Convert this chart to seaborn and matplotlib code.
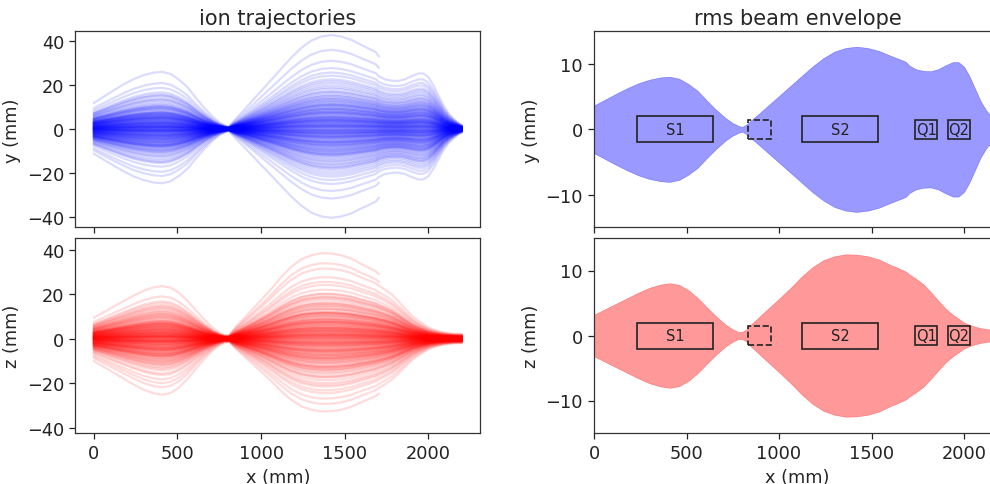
import numpy as np
import pandas as pd
import matplotlib
matplotlib.use("Agg")
import matplotlib.pyplot as plt
from matplotlib.patches import Rectangle
import seaborn as sns

# Beamline positions (mm) at which the beam is sampled
x_pos = [0, 60, 120, 180, 240, 300, 360, 410, 460, 510, 560, 610, 660, 710, 750,
         780, 800, 820, 850, 900, 950, 1000, 1060, 1120, 1180, 1240, 1300, 1360,
         1420, 1480, 1540, 1600, 1650, 1685, 1705, 1740, 1780, 1820, 1860, 1900,
         1940, 1970, 2000, 2030, 2060, 2090, 2120, 2150, 2180, 2200]

# rms beam half-size (mm) in y and z
rms_y = [3.65, 4.55, 5.45, 6.3, 7.05, 7.6, 7.95, 8.05, 7.75, 6.95, 5.9, 4.4, 3.0,
         1.75, 0.95, 0.55, 0.36, 0.65, 1.4, 2.6, 3.85, 5.1, 6.6, 8.1, 9.6, 10.9,
         11.9, 12.45, 12.65, 12.45, 12.0, 11.3, 10.75, 10.35, 9.75, 9.2, 8.95, 8.9,
         9.2, 9.8, 10.3, 10.3, 9.6, 8.1, 6.2, 4.3, 2.9, 1.9, 1.1, 0.7]
rms_z = [3.2, 4.05, 4.9, 5.75, 6.6, 7.35, 7.85, 8.05, 7.8, 7.0, 5.8, 4.35, 2.95,
         1.7, 0.95, 0.55, 0.55, 0.85, 1.75, 3.05, 4.35, 5.65, 7.25, 9.0, 10.5, 11.6,
         12.2, 12.5, 12.45, 12.2, 11.7, 10.9, 10.3, 9.85, 9.4, 8.75, 7.9, 6.7, 5.4,
         4.15, 3.2, 2.6, 2.0, 1.65, 1.35, 1.15, 1.0, 0.9, 0.85, 0.85]

# Normalised ion amplitudes (units of rms size) before and after the crossover
amp_y_in = [0.12, -0.85, 1.43, -0.27, 0.66, -1.92, 0.04, 0.91, -0.53, 2.31,
            -0.08, 0.37, -1.21, 0.79, -0.44, 1.08, -2.64, 0.21, -0.69, 0.55,
            1.72, -0.15, 0.48, -1.37, 0.02, -0.96, 0.83, -0.31, 1.26, -0.61,
            0.29, -1.58, 0.71, -0.05, 3.21, -0.77, 0.14, -1.04, 0.58, -0.22,
            -0.39, 1.15, -0.12, 0.94, -1.69, 0.33, -0.88, 0.07, 1.89, -0.47,
            0.62, -0.19, -1.13, 0.41, -0.73, 1.31, -0.02, 0.87, -2.12, 0.18,
            -0.57, 0.25, 1.02, -0.34, 0.76, -1.46, 0.11, -0.81, 0.51, 1.61,
            -0.25, 0.69, -0.99, 0.09, 1.21, -0.63, 0.35, -1.28, 2.58, -0.10,
            0.45, -0.41, 0.82, -1.79, 0.16, -0.06, 1.37, -0.91, 0.27, -0.51,
            1.96, -0.36, 0.58, -1.09, 0.03, 0.73, -0.66, -3.05, 0.39, 1.11,
            -0.14, 0.88, -0.49, 0.23, -1.33, 0.64, 1.52, -0.21, -0.83, 0.13,
            0.54, -1.01, 0.31, -0.59, 1.84, -0.09, 0.97, -1.52, 0.06, -0.38,
            -0.71, 0.19, -2.41, 1.18, -0.29, 0.43, -0.94, 0.67, -0.04, 2.07,
            0.35, -1.17, 0.78, -0.17, -0.55, 1.27, 0.01, -1.86, 0.61, -0.32,
            -0.93, 0.47, 0.15, -0.75, 1.66, -0.43, 0.93, -1.24, 0.28, -0.11]
amp_y_out = [-0.44, 1.07, -0.16, 0.62, -1.71, 0.28, 0.95, -0.58, 2.18, -0.03,
             0.81, -1.26, 0.14, -0.37, 1.49, -0.86, 0.42, -0.09, -2.49, 0.56,
             -0.22, 0.73, -1.02, 0.05, 0.34, 1.91, -0.67, 0.19, -1.41, 0.87,
             0.11, -0.52, 2.83, -0.31, 0.68, -0.98, 0.24, 1.23, -0.13, -0.79,
             1.36, -0.07, -0.61, 0.49, -1.16, 0.76, -0.28, 0.02, 1.01, -1.83,
             -0.35, 0.57, 0.13, -0.89, 1.64, -0.46, 0.32, -2.22, 0.71, -0.18,
             0.92, -0.72, 0.38, -0.01, -1.34, 0.17, 1.12, -0.54, 0.44, -3.18,
             -0.11, 1.78, -0.42, 0.63, -0.95, 0.08, -0.26, 1.29, -1.07, 0.36,
             0.53, -0.64, -0.17, 1.03, -1.55, 0.26, 0.84, -0.33, 2.44, -0.48,
             -0.81, 0.22, 0.67, -1.19, 0.09, -0.04, 1.44, -0.69, 0.31, 1.17,
             -1.97, 0.46, -0.24, 0.79, -0.56, 1.33, 0.12, -0.91, 0.59, -0.14,
             0.27, -1.38, 0.98, -0.06, 0.40, -0.76, 2.02, -0.29, 0.72, -1.11,
             0.16, -0.47, 1.56, -0.83, 0.04, 0.61, -1.63, 0.35, -0.20, 0.89,
             -0.60, 1.09, -0.39, 0.21, -1.28, 0.52, -0.03, 1.71, -0.92, 0.30,
             0.07, -0.74, 0.43, -1.47, 0.86, -0.12, 1.19, -0.50, 3.36, -0.27]
amp_z_in = [-0.31, 0.74, -1.18, 0.06, 1.53, -0.62, 0.29, -2.27, 0.88, -0.09,
            0.41, -0.95, 0.17, 1.24, -0.46, 0.03, -1.61, 0.66, -0.21, 2.09,
            -0.73, 0.12, 0.93, -0.38, -1.06, 0.51, 1.81, -0.14, 0.36, -0.84,
            0.22, -0.57, 1.38, -1.94, 0.08, 0.79, -0.27, -0.02, 1.12, -0.66,
            -2.71, 0.47, -0.19, 0.97, -0.89, 0.33, 1.47, -0.44, 0.14, -1.31,
            0.60, -0.07, -1.42, 0.25, 0.84, -0.52, 2.36, -0.24, 0.55, -0.98,
            1.06, -0.35, 0.19, -1.67, 0.71, -0.11, -0.78, 0.39, 1.68, -0.49,
            -0.16, 0.90, -1.09, 0.31, -0.59, 1.99, 0.01, -0.82, 0.48, -1.23,
            0.57, -0.28, 1.29, -0.04, -1.51, 0.69, 0.15, -0.70, 2.94, -0.41,
            -0.87, 0.35, -0.13, 1.16, -2.03, 0.44, 0.81, -0.55, 0.09, 1.41,
            -0.33, 0.63, -1.36, 0.20, -0.03, 1.00, -0.64, 0.28, -1.77, 0.76,
            0.13, -0.47, 1.73, -0.92, 0.52, -0.18, -1.14, 0.86, 0.05, -2.48,
            0.99, -0.26, 0.37, -0.80, 1.21, -0.12, 0.64, -1.46, 0.23, -0.53,
            -1.00, 0.54, 0.07, 1.58, -0.36, 0.30, -0.69, 1.87, -0.08, -3.12,
            0.46, -1.27, 0.82, -0.17, 0.18, -0.60, 1.33, -0.97, 0.11, 0.70]
amp_z_out = [0.58, -1.12, 0.26, -0.45, 1.62, 0.04, -0.83, 0.97, -2.15, 0.32,
             -0.19, 0.71, -0.60, 1.27, 0.10, -1.49, 0.43, -0.08, 2.52, -0.73,
             0.89, -0.31, -1.85, 0.16, 0.65, -0.02, 1.04, -0.54, 0.38, -1.06,
             -0.24, 1.45, -0.68, 0.29, -0.13, 0.81, -2.34, 0.55, -0.40, 1.14,
             0.07, -0.92, 0.49, 1.93, -0.35, 0.20, -1.21, 0.74, -0.06, -0.57,
             1.31, -0.16, 0.62, -1.02, 0.34, -0.48, 2.21, 0.12, -0.77, 0.93,
             -1.59, 0.39, -0.09, 0.85, -0.63, 1.18, -0.25, 0.02, -1.33, 0.47,
             3.07, -0.42, 0.27, -0.86, 1.52, -0.14, 0.60, -1.15, 0.19, -0.70,
             -0.01, 1.07, -0.53, 0.36, -1.72, 0.79, 0.14, -0.29, 1.39, -0.97,
             0.50, -0.21, -2.61, 0.68, -0.38, 1.25, 0.08, -0.80, 0.31, 1.76,
             -0.45, 0.24, -1.10, 0.57, 0.01, -0.65, 1.60, -0.18, 0.92, -1.40,
             0.15, -0.75, 0.44, 2.04, -0.28, 0.66, -0.99, 0.22, -1.95, 0.83,
             -0.11, 1.21, -0.50, 0.09, -1.25, 0.37, 0.96, -0.36, 0.53, -0.03,
             -0.88, 0.18, 1.49, -0.59, 0.72, -1.66, 0.28, -0.15, 1.09, -0.43,
             0.61, -1.37, 0.05, 0.91, -0.23, 2.71, -0.69, 0.40, -1.03, 0.13]

# Lattice elements: name, start (mm), end (mm), box half-height (mm), dashed
elem_names = ["S1", "", "S2", "Q1", "Q2"]
elem_start = [235, 830, 1125, 1735, 1912]
elem_end = [645, 955, 1537, 1855, 2033]
elem_half = [2.0, 1.5, 2.0, 1.5, 1.5]
elem_dashed = [False, True, False, False, False]

crossover_x = 800     # beam waist between the two solenoids
aperture_x = 1705     # aperture in front of the quadrupoles
aperture_r = 24.0     # its radius (mm)


def trajectories(rms, amp_in, amp_out):
    xs = np.asarray(x_pos, float)
    env = np.asarray(rms, float)
    rows = []
    for i, (a, b) in enumerate(zip(amp_in, amp_out)):
        amp = np.where(xs <= crossover_x, a, b)
        pos = amp * env
        keep = np.ones_like(xs, bool)
        at_ap = pos[xs == aperture_x][0]
        if abs(at_ap) > aperture_r:
            keep = xs <= aperture_x
        rows.append(pd.DataFrame({"x": xs[keep], "pos": pos[keep], "ion": i}))
    return pd.concat(rows, ignore_index=True)


traj_y = trajectories(rms_y, amp_y_in, amp_y_out)
traj_z = trajectories(rms_z, amp_z_in, amp_z_out)

sns.set_style("ticks")
plt.rcParams["font.family"] = ["DejaVu Sans"]
plt.rcParams["axes.edgecolor"] = "#333333"
plt.rcParams["xtick.color"] = "#222222"
plt.rcParams["ytick.color"] = "#222222"

fig = plt.figure(figsize=(9.9, 4.85), dpi=100)
W, H = 990.0, 485.0


def add_axes(l, t, r, b):
    return fig.add_axes([l / W, 1 - b / H, (r - l) / W, (b - t) / H])


ax_ty = add_axes(75.3, 32.3, 480.3, 228.3)
ax_tz = add_axes(75.3, 239.0, 480.3, 434.0)
ax_ey = add_axes(594.0, 32.3, 1001.0, 228.3)
ax_ez = add_axes(594.0, 239.0, 1001.0, 434.0)

tick_fs = 12.8
for ax, df, col in [(ax_ty, traj_y, "blue"), (ax_tz, traj_z, "red")]:
    sns.lineplot(data=df, x="x", y="pos", units="ion", estimator=None,
                 sort=False, color=col, alpha=0.14, lw=1.6, legend=False, ax=ax)
    ax.set_xlim(-110, 2310)
    ax.set_xticks([0, 500, 1000, 1500, 2000])
    ax.set_yticks([-40, -20, 0, 20, 40])

ax_ty.set_ylim(-44.5, 44.2)
ax_tz.set_ylim(-42.3, 45.2)

xs = np.asarray(x_pos, float)
for ax, rms, col in [(ax_ey, rms_y, "blue"), (ax_ez, rms_z, "red")]:
    env = np.asarray(rms, float)
    ax.fill_between(xs, -env, env, color=col, alpha=0.4, lw=0.4)
    for name, s, e, h, d in zip(elem_names, elem_start, elem_end, elem_half, elem_dashed):
        ax.add_patch(Rectangle((s, -h), e - s, 2 * h, fill=False,
                               edgecolor="#222222", lw=1.2,
                               linestyle="--" if d else "-", zorder=3))
        if name:
            ax.text((s + e) / 2, 0, name, ha="center", va="center",
                    fontsize=10.5, color="#222222", zorder=4)
    ax.set_xlim(0, 2200)
    ax.set_ylim(-15, 15)
    ax.set_xticks([0, 500, 1000, 1500, 2000])
    ax.set_yticks([-10, 0, 10])

for ax in (ax_ty, ax_ey):
    ax.tick_params(labelbottom=False)
    ax.set_xlabel("")
for ax in (ax_tz, ax_ez):
    ax.set_xlabel("x (mm)", fontsize=tick_fs)

ax_ty.set_ylabel("y (mm)", fontsize=tick_fs)
ax_tz.set_ylabel("z (mm)", fontsize=tick_fs)
ax_ey.set_ylabel("y (mm)", fontsize=tick_fs)
ax_ez.set_ylabel("z (mm)", fontsize=tick_fs)

for ax in (ax_ty, ax_tz, ax_ey, ax_ez):
    ax.tick_params(labelsize=tick_fs, length=4.5, width=0.9)
    for sp in ax.spines.values():
        sp.set_linewidth(0.9)

ax_ty.set_title("ion trajectories", fontsize=15, pad=5)
ax_ey.set_title("rms beam envelope", fontsize=15, pad=5)

fig.savefig("out.png", dpi=100)
